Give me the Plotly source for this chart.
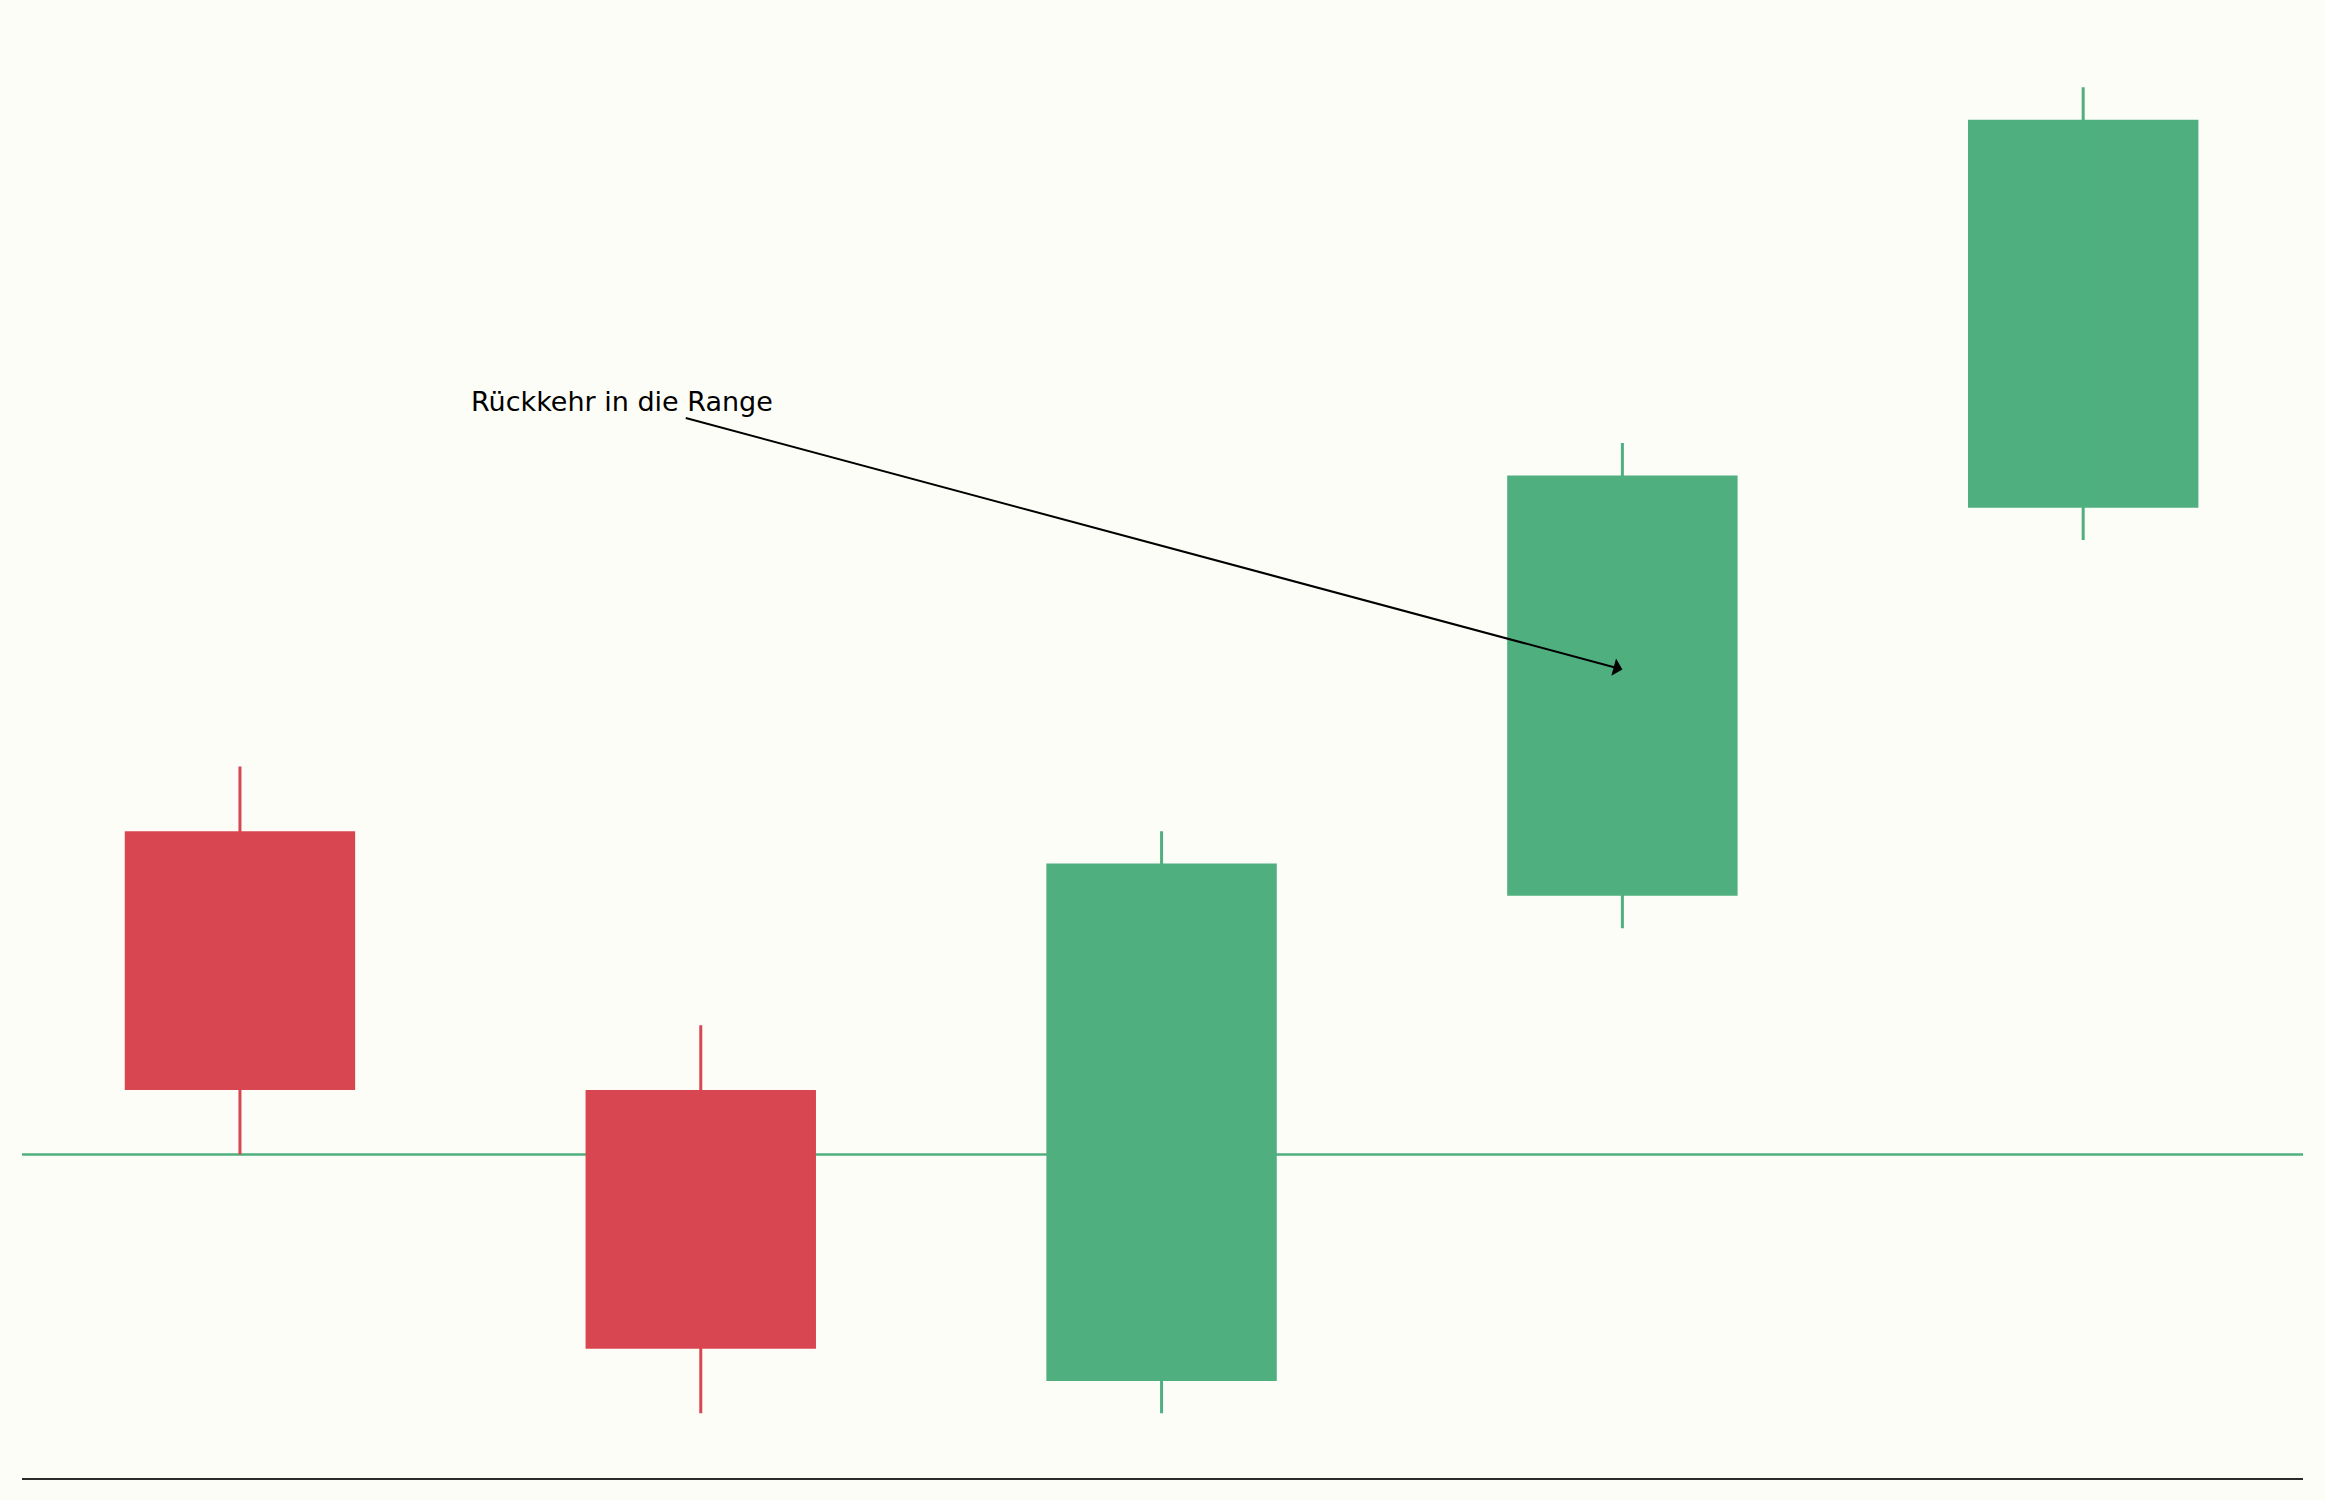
#!/usr/bin/env python3
"""
Candlestick sketch: return into the range after a fake breakdown.
"""

import plotly.graph_objects as go

# candle data (position index, OHLC)
positions = [0, 1, 2, 3, 4]
opens = [110, 102, 93, 108, 120]
highs = [112, 104, 110, 122, 133]
lows = [100, 92, 92, 107, 119]
closes = [102, 94, 109, 121, 132]

range_level = 100
annotation_text = "Rückkehr in die Range"
annotation_target = (3.0, 115.0)
annotation_text_pos = (0.83, 123.3)

RED = "#D84652"
GREEN = "#4FAF7F"
BG = "#FDFDF8"

fig = go.Figure()

# wicks first so the bodies sit on top
for up in (False, True):
    wx, wy = [], []
    for p, o, h, l, c in zip(positions, opens, highs, lows, closes):
        if (c >= o) != up:
            continue
        wx += [p, p, None]
        wy += [l, h, None]
    fig.add_trace(
        go.Scatter(
            x=wx,
            y=wy,
            mode="lines",
            line=dict(color=GREEN if up else RED, width=3),
            hoverinfo="skip",
            showlegend=False,
        )
    )

body_base = [min(o, c) for o, c in zip(opens, closes)]
body_height = [abs(c - o) for o, c in zip(opens, closes)]
body_color = [GREEN if c >= o else RED for o, c in zip(opens, closes)]

fig.add_trace(
    go.Bar(
        x=positions,
        y=body_height,
        base=body_base,
        width=0.5,
        marker=dict(color=body_color, line=dict(width=0)),
        showlegend=False,
    )
)

fig.add_shape(
    type="line",
    xref="paper",
    x0=0,
    x1=1,
    y0=range_level,
    y1=range_level,
    line=dict(color=GREEN, width=2.5),
    layer="below",
)

fig.add_annotation(
    x=annotation_target[0],
    y=annotation_target[1],
    ax=annotation_text_pos[0],
    ay=annotation_text_pos[1],
    axref="x",
    ayref="y",
    text=annotation_text,
    showarrow=True,
    arrowhead=1,
    arrowsize=1.5,
    arrowwidth=2,
    arrowcolor="black",
    font=dict(family="DejaVu Sans", size=27, color="black"),
)

fig.update_layout(
    width=2325,
    height=1500,
    paper_bgcolor=BG,
    plot_bgcolor=BG,
    margin=dict(l=22, r=22, t=0, b=22),
    xaxis=dict(
        range=[-0.473, 4.477],
        showgrid=False,
        zeroline=False,
        showticklabels=False,
        ticks="",
        showline=True,
        linecolor="#2b2b2b",
        linewidth=2,
    ),
    yaxis=dict(
        range=[90, 135.7],
        showgrid=False,
        zeroline=False,
        showticklabels=False,
        ticks="",
        showline=False,
    ),
    showlegend=False,
)

# drop the browser's default body margin so the figure fills the window
fig.write_html(
    "out.html",
    config={"displayModeBar": False},
    post_script=(
        "document.body.style.margin='0';"
        f"document.body.style.background='{BG}';"
    ),
)
